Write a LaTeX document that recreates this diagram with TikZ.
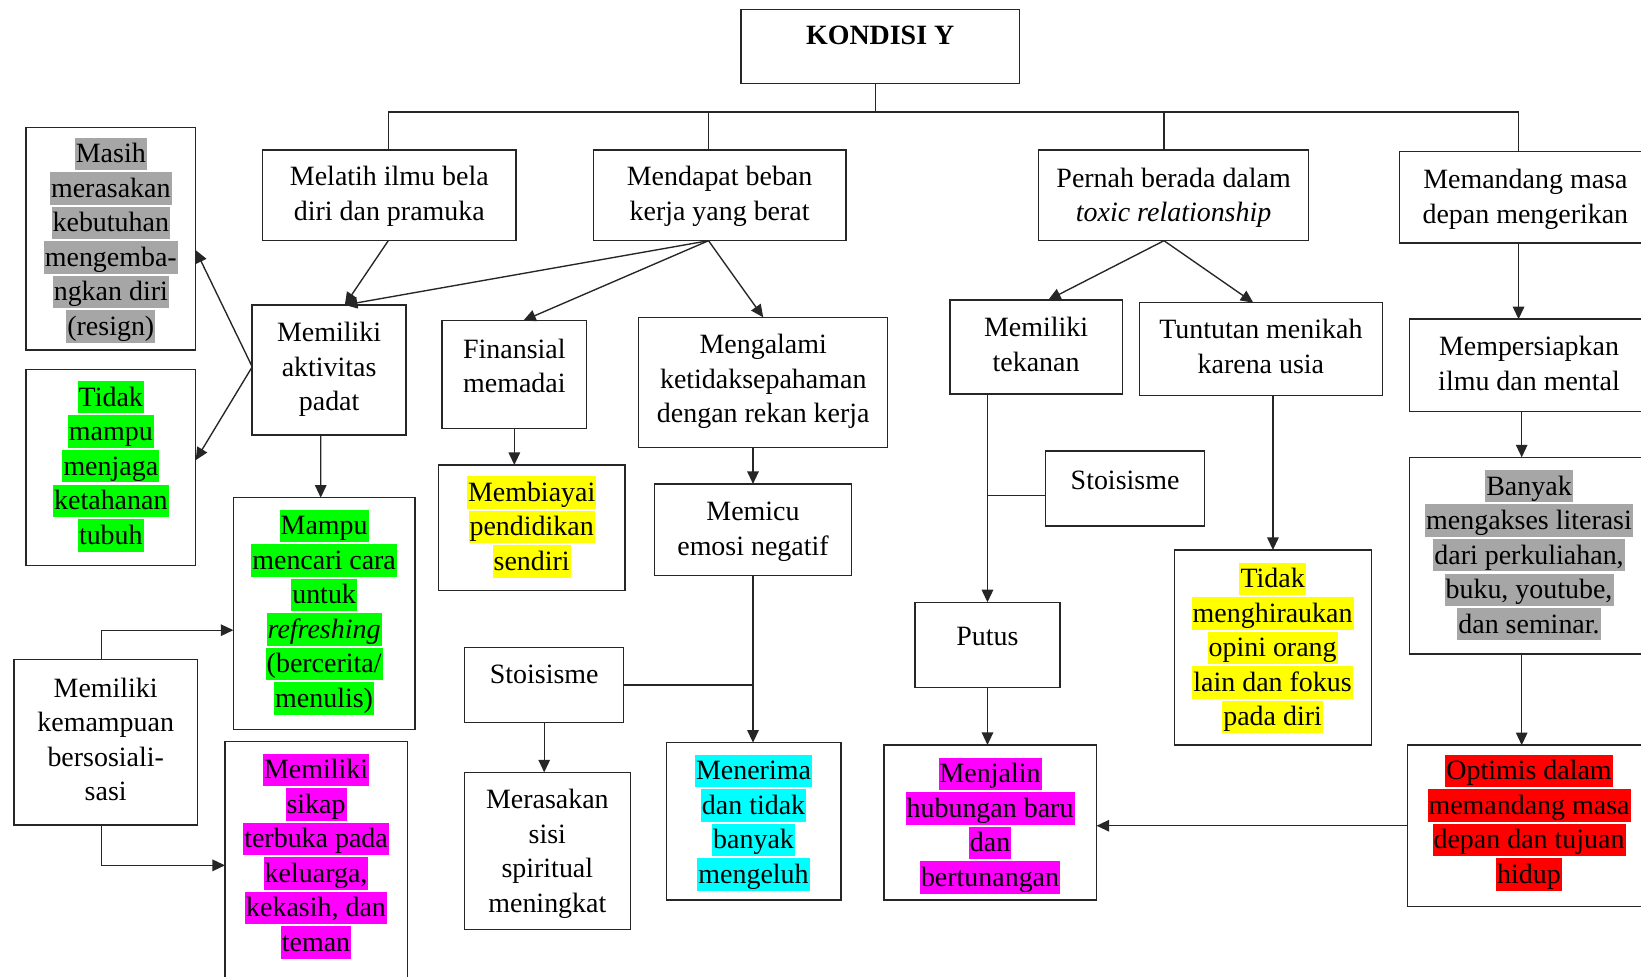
\documentclass[tikz,border=0pt]{standalone}
\usepackage{fontspec}
\setmainfont{Liberation Serif}
\usetikzlibrary{arrows.meta}
\definecolor{hlgray}{RGB}{166,166,166}
\definecolor{hlgreen}{RGB}{0,255,0}
\definecolor{hlyellow}{RGB}{255,255,0}
\definecolor{hlcyan}{RGB}{0,255,255}
\definecolor{hlmag}{RGB}{255,0,255}
\definecolor{hlred}{RGB}{255,0,0}
\setlength{\fboxsep}{0pt}
\newcommand\myst{\rule[-7pt]{0pt}{31pt}}
\newcommand\myln[1]{\myst#1}
\newcommand\myhl[2]{\colorbox{#1}{\kern1pt\myst#2\kern1pt}}
\newcommand\mybox[5]{\node[box,anchor=north west,minimum width={(#4)-(#2)},minimum height={(#5)-(#3)}] (#1) at (#2,#3) {};}
\begin{document}
\begin{tikzpicture}[x=1pt,y=-1pt,
 box/.style={draw=black!85,line width=1.4pt,inner sep=0pt,outer sep=0pt},
 txt/.style={align=center,inner sep=0pt,font=\fontsize{26.7}{33}\selectfont},
 conn/.style={draw=black!85,line width=1.3pt},
 arr/.style={conn,-{Triangle[length=12pt,width=11pt]}}]
\useasboundingbox (0,0) rectangle (1568,933);
\clip (0,0) rectangle (1568,933);
\fill[white] (0,0) rectangle (1568,933);

% boxes
\mybox{kon}{708}{9}{974}{80}
\mybox{mel}{251}{143.3}{493}{230}
\mybox{mbb}{567}{143.3}{808.3}{230}
\mybox{per}{992.4}{143.3}{1250.4}{230}
\mybox{mmd}{1337}{145}{1578}{232}
\mybox{mas}{24.8}{121.6}{187}{334.4}
\mybox{tdk}{24.8}{352.9}{187}{540.5}
\mybox{akt}{241}{291.4}{388}{415.6}
\mybox{mam}{223}{475.5}{396.5}{696.8}
\mybox{sos}{13.4}{630}{188.5}{788.5}
\mybox{skp}{215}{708.7}{389.2}{945}
\mybox{fin}{422.3}{306.4}{560.6}{409.2}
\mybox{bia}{418.8}{444.3}{597.2}{564.4}
\mybox{ngl}{610.3}{303.2}{848.2}{427.4}
\mybox{pic}{625.2}{462.4}{813.8}{550}
\mybox{st1}{444}{618.8}{596}{690.5}
\mybox{ras}{444}{738}{602.2}{888}
\mybox{trm}{636.6}{709.6}{803.6}{860}
\mybox{tek}{907.7}{286.6}{1072.3}{376.5}
\mybox{tun}{1088.6}{289.2}{1321}{378}
\mybox{st2}{998.8}{430.9}{1151}{502.6}
\mybox{opi}{1122}{525.5}{1310.6}{711.8}
\mybox{put}{874.3}{575.5}{1012.8}{657}
\mybox{jal}{844.6}{711.8}{1047.8}{860}
\mybox{sia}{1347}{305}{1578}{393}
\mybox{bny}{1347}{437}{1578}{625}
\mybox{opt}{1345}{712}{1578}{866}

% texts
\node[txt] (kont) at (841,34) {\myln{\textbf{KONDISI Y}}};
\node[txt] (melt) at (372,185.5) {\myln{Melatih ilmu bela}\\\myln{diri dan pramuka}};
\node[txt] (mbbt) at (687.6,185.5) {\myln{Mendapat beban}\\\myln{kerja yang berat}};
\node[txt] (pert) at (1121.4,187) {\myln{Pernah berada dalam}\\\myln{\textit{toxic relationship}}};
\node[txt] (mmdt) at (1457.5,188.5) {\myln{Memandang masa}\\\myln{depan mengerikan}};
\node[txt] (mast) at (105.9,229.5) {\myhl{hlgray}{Masih}\\\myhl{hlgray}{merasakan}\\\myhl{hlgray}{kebutuhan}\\\myhl{hlgray}{mengemba-}\\\myhl{hlgray}{ngkan diri}\\\myhl{hlgray}{(resign)}};
\node[txt] (tdkt) at (105.9,445.5) {\myhl{hlgreen}{Tidak}\\\myhl{hlgreen}{mampu}\\\myhl{hlgreen}{menjaga}\\\myhl{hlgreen}{ketahanan}\\\myhl{hlgreen}{tubuh}};
\node[txt] (aktt) at (314.5,351) {\myln{Memiliki}\\\myln{aktivitas}\\\myln{padat}};
\node[txt] (mamt) at (309.7,585) {\myhl{hlgreen}{Mampu}\\\myhl{hlgreen}{mencari cara}\\\myhl{hlgreen}{untuk}\\\myhl{hlgreen}{\textit{refreshing}}\\\myhl{hlgreen}{(bercerita/}\\\myhl{hlgreen}{menulis)}};
\node[txt] (sost) at (101,707) {\myln{Memiliki}\\\myln{kemampuan}\\\myln{bersosiali-}\\\myln{sasi}};
\node[txt] (skpt) at (302,818) {\myhl{hlmag}{Memiliki}\\\myhl{hlmag}{sikap}\\\myhl{hlmag}{terbuka pada}\\\myhl{hlmag}{keluarga,}\\\myhl{hlmag}{kekasih, dan}\\\myhl{hlmag}{teman}};
\node[txt] (fint) at (491.5,350.5) {\myln{Finansial}\\\myln{memadai}};
\node[txt] (biat) at (508,503.5) {\myhl{hlyellow}{Membiayai}\\\myhl{hlyellow}{pendidikan}\\\myhl{hlyellow}{sendiri}};
\node[txt] (nglt) at (729.3,362.5) {\myln{Mengalami}\\\myln{ketidaksepahaman}\\\myln{dengan rekan kerja}};
\node[txt] (pict) at (719.5,505.5) {\myln{Memicu}\\\myln{emosi negatif}};
\node[txt] (st1t) at (520,645) {\myln{Stoisisme}};
\node[txt] (rast) at (523,813.5) {\myln{Merasakan}\\\myln{sisi}\\\myln{spiritual}\\\myln{meningkat}};
\node[txt] (trmt) at (720,786) {\myhl{hlcyan}{Menerima}\\\myhl{hlcyan}{dan tidak}\\\myhl{hlcyan}{banyak}\\\myhl{hlcyan}{mengeluh}};
\node[txt] (tekt) at (990,329.5) {\myln{Memiliki}\\\myln{tekanan}};
\node[txt] (tunt) at (1204.8,331.5) {\myln{Tuntutan menikah}\\\myln{karena usia}};
\node[txt] (st2t) at (1075,459) {\myln{Stoisisme}};
\node[txt] (opit) at (1216,619) {\myhl{hlyellow}{Tidak}\\\myhl{hlyellow}{menghiraukan}\\\myhl{hlyellow}{opini orang}\\\myhl{hlyellow}{lain dan fokus}\\\myhl{hlyellow}{pada diri}};
\node[txt] (putt) at (943.5,608) {\myln{Putus}};
\node[txt] (jalt) at (946,789) {\myhl{hlmag}{Menjalin}\\\myhl{hlmag}{hubungan baru}\\\myhl{hlmag}{dan}\\\myhl{hlmag}{bertunangan}};
\node[txt] (siat) at (1461,348) {\myln{Mempersiapkan}\\\myln{ilmu dan mental}};
\node[txt] (bnyt) at (1461,530.5) {\myhl{hlgray}{Banyak}\\\myhl{hlgray}{mengakses literasi}\\\myhl{hlgray}{dari perkuliahan,}\\\myhl{hlgray}{buku, youtube,}\\\myhl{hlgray}{dan seminar.}};
\node[txt] (optt) at (1461,786) {\myhl{hlred}{Optimis dalam}\\\myhl{hlred}{memandang masa}\\\myhl{hlred}{depan dan tujuan}\\\myhl{hlred}{hidup}};

% top tree
\coordinate (j0) at (836.5,107);
\coordinate (j1) at (371,107);
\coordinate (j2) at (677,107);
\coordinate (j3) at (1112.2,107);
\coordinate (j4) at (1451,107);
\draw[conn] (j0 |- kon.south) -- (j0);
\draw[conn] (j1) -- (j4);
\draw[conn] (j1) -- (j1 |- mel.north);
\draw[conn] (j2) -- (j2 |- mbb.north);
\draw[conn] (j3) -- (j3 |- per.north);
\draw[conn] (j4) -- (j4 |- mmd.north);

% connectors
\draw[arr] (j1 |- mel.south) -- ([xshift=15pt]akt.north);
\draw[arr] (j2 |- mbb.south) -- ([xshift=15pt]akt.north);
\draw[arr] (j2 |- mbb.south) -- ([xshift=8.5pt]fin.north);
\draw[arr] (j2 |- mbb.south) -- (ngl.north);
\draw[arr] ([yshift=3pt]akt.west) -- ([yshift=-11pt]mas.east);
\draw[arr] ([yshift=3pt]akt.west) -- ([yshift=7pt]tdk.east);
\draw[arr] ([xshift=-8pt]akt.south) -- ([xshift=-3.3pt]mam.north);
\coordinate (s1) at ([xshift=-3.8pt]sos.north);
\coordinate (s2) at ([xshift=-3.8pt]sos.south);
\draw[arr] (s1) |- ([yshift=-16pt]mam.west);
\draw[arr] (s2) |- (skp.west);
\draw[arr] (fin.south) -- (fin.south |- bia.north);
\draw[arr] (pic.north |- ngl.south) -- (pic.north);
\draw[arr] (pic.south) -- (pic.south |- trm.north);
\draw[conn] (st1.east) -- (st1.east -| pic.south);
\draw[arr] (st1.south) -- (st1.south |- ras.north);
\draw[arr] (j3 |- per.south) -- ([xshift=11.6pt]tek.north);
\draw[arr] (j3 |- per.south) -- ([xshift=-7.3pt]tun.north);
\draw[arr] (put.north |- tek.south) -- (put.north);
\coordinate (s3) at ([yshift=-7pt]st2.west);
\draw[conn] (s3) -- (s3 -| put.north);
\draw[arr] (opi.north |- tun.south) -- (opi.north);
\draw[arr] (put.south) -- (put.south |- jal.north);
\draw[arr] (j4 |- mmd.south) -- (j4 |- sia.north);
\coordinate (k) at (1454,0);
\draw[arr] (k |- sia.south) -- (k |- bny.north);
\draw[arr] (k |- bny.south) -- (k |- opt.north);
\draw[arr] (opt.west) -- (opt.west -| jal.east);
\end{tikzpicture}
\end{document}
